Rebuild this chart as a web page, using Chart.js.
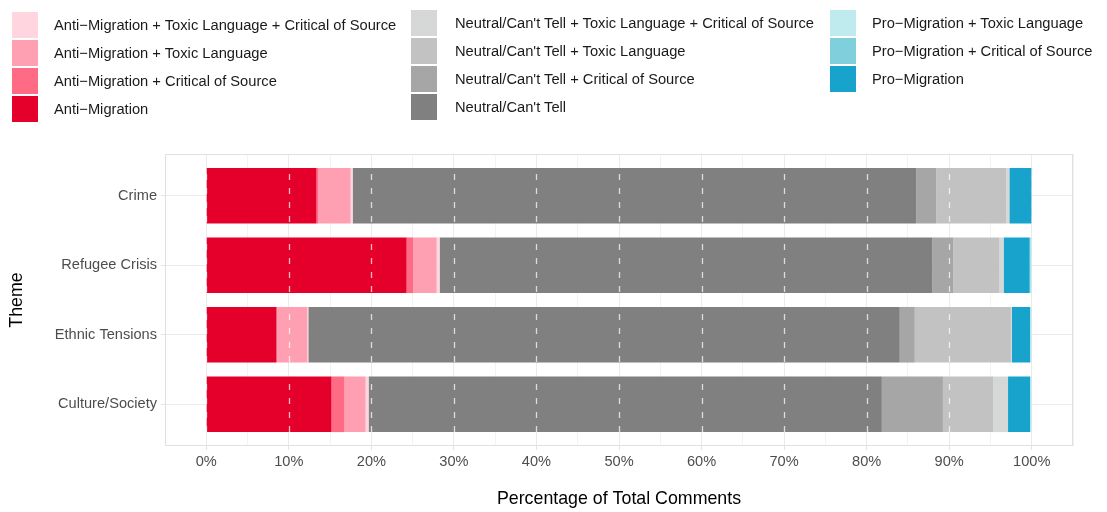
<!DOCTYPE html>
<html>
<head>
<meta charset="utf-8">
<script src="https://cdn.jsdelivr.net/npm/chart.js@4/dist/chart.umd.min.js"></script>
<style>
  html, body { margin: 0; padding: 0; background: #fff; }
  #wrap { position: relative; width: 1107px; height: 512px; font-family: 'Liberation Sans', Arial, sans-serif; }
  #chart { position: absolute; left: 0; top: 0; }
  .col { position: absolute; }
  .item { display: flex; align-items: center; height: 28px; white-space: nowrap; }
  .sw { width: 26px; height: 26px; flex: none; }
  .lbl { font-size: 14.7px; color: #1a1a1a; }
</style>
</head>
<body>
<div id="wrap">
  <canvas id="chart" width="1107" height="512"></canvas>
  <div id="legend"></div>
</div>
<script>
// categories, top to bottom
const categories = ['Crime', 'Refugee Crisis', 'Ethnic Tensions', 'Culture/Society']

// % of total comments per theme, one array per stance (stack order left to right)
const antiMigration        = [13.35, 24.27,  8.50, 15.17]
const antiCritical         = [ 0.24,  0.81,  0.10,  1.58]
const antiToxic            = [ 3.90,  2.83,  3.64,  2.55]
const antiToxicCritical    = [ 0.24,  0.36,  0.12,  0.36]
const neutral              = [68.30, 59.70, 71.65, 62.18]
const neutralCritical      = [ 2.40,  2.55,  1.82,  7.40]
const neutralToxic         = [ 8.50,  5.58, 11.65,  6.07]
const neutralToxicCritical = [ 0.36,  0.49,  0.12,  1.82]
const proMigration         = [ 2.67,  3.16,  2.20,  2.67]
const proCritical          = [ 0.00,  0.10,  0.00,  0.00]
const proToxic             = [ 0.00,  0.15,  0.20,  0.20]

const xTickValues = [0, 10, 20, 30, 40, 50, 60, 70, 80, 90, 100]

const series = [
  {group: 0, label: 'Anti−Migration', data: antiMigration, color: '#e4002b'},
  {group: 0, label: 'Anti−Migration + Critical of Source', data: antiCritical, color: '#ff6b84'},
  {group: 0, label: 'Anti−Migration + Toxic Language', data: antiToxic, color: '#ff9fb2'},
  {group: 0, label: 'Anti−Migration + Toxic Language + Critical of Source', data: antiToxicCritical, color: '#ffd6e0'},
  {group: 1, label: 'Neutral/Can\'t Tell', data: neutral, color: '#808080'},
  {group: 1, label: 'Neutral/Can\'t Tell + Critical of Source', data: neutralCritical, color: '#a6a6a6'},
  {group: 1, label: 'Neutral/Can\'t Tell + Toxic Language', data: neutralToxic, color: '#c2c2c2'},
  {group: 1, label: 'Neutral/Can\'t Tell + Toxic Language + Critical of Source', data: neutralToxicCritical, color: '#d6d8d8'},
  {group: 2, label: 'Pro−Migration', data: proMigration, color: '#17a3cc'},
  {group: 2, label: 'Pro−Migration + Critical of Source', data: proCritical, color: '#80cfdc'},
  {group: 2, label: 'Pro−Migration + Toxic Language', data: proToxic, color: '#c0ebee'}
]

// legend: one column per stance, reversed within the group
const legendCols = [{left: 12, top: 11, gap: 16}, {left: 411, top: 8.5, gap: 18}, {left: 830, top: 8.5, gap: 16}]
const legendEl = document.getElementById('legend')
legendCols.forEach((c, g) => {
  const col = document.createElement('div')
  col.className = 'col'
  col.style.left = c.left + 'px'
  col.style.top = c.top + 'px'
  series.filter(s => s.group === g).reverse().forEach(s => {
    const it = document.createElement('div')
    it.className = 'item'
    it.innerHTML = `<div class="sw" style="background:${s.color};margin-right:${c.gap}px"></div><span class="lbl">${s.label}</span>`
    col.appendChild(it)
  })
  legendEl.appendChild(col)
})

const panelFrame = {
  id: 'panelFrame',
  afterDatasetsDraw(chart){
    const {ctx, chartArea: a} = chart
    ctx.save()
    ctx.strokeStyle = '#e0e0e0'
    ctx.lineWidth = 1
    ctx.strokeRect(Math.round(a.left) + 0.5, Math.round(a.top) + 0.5, Math.round(a.right - a.left) - 1, Math.round(a.bottom - a.top) - 1)
    ctx.restore()
  }
}

// white dashed reference lines across the bars at every 10%
const dashLines = {
  id: 'dashLines',
  afterDatasetsDraw(chart){
    const {ctx, chartArea: a} = chart
    const xs = chart.scales.x
    const bars = chart.getDatasetMeta(0).data
    ctx.save()
    ctx.strokeStyle = 'rgba(255,255,255,0.72)'
    ctx.lineWidth = 1.3
    ctx.setLineDash([6, 8])
    xTickValues.forEach(v => {
      const x = Math.round(xs.getPixelForValue(v)) + 0.5
      bars.forEach(b => {
        const y0 = b.y - b.height / 2, y1 = b.y + b.height / 2
        ctx.lineDashOffset = (y0 - a.top) + 8
        ctx.beginPath()
        ctx.moveTo(x, y0)
        ctx.lineTo(x, y1)
        ctx.stroke()
      })
    })
    ctx.restore()
  }
}

const font = "'Liberation Sans', Arial, sans-serif"

new Chart(document.getElementById('chart'), {
  type: 'bar',
  data: {
    datasets: series.map(s => ({
      label: s.label,
      data: s.data.map((v, i) => ({x: v, y: i})),
      backgroundColor: s.color,
      borderWidth: 0,
      categoryPercentage: 0.8,
      barPercentage: 1
    }))
  },
  options: {
    indexAxis: 'y',
    responsive: false,
    animation: false,
    layout: {padding: {top: 154, right: 34, left: 0, bottom: 0}},
    plugins: {legend: {display: false}, tooltip: {enabled: false}},
    scales: {
      x: {
        type: 'linear', stacked: true, min: -5, max: 105,
        afterFit: s => { s.height = 66 },
        border: {display: false},
        grid: {
          color: c => (c.tick && c.tick.value % 10 === 0) ? '#ebebeb' : '#f3f3f3',
          tickColor: c => (c.tick && c.tick.value % 10 === 0 && c.tick.value >= 0 && c.tick.value <= 100) ? '#e3e3e3' : 'rgba(0,0,0,0)',
          tickLength: 4
        },
        ticks: {
          stepSize: 5, autoSkip: false, maxRotation: 0, padding: 3,
          color: '#4d4d4d', font: {family: font, size: 14.6},
          callback: v => xTickValues.includes(v) ? v + '%' : ''
        },
        title: {display: true, text: 'Percentage of Total Comments', color: '#000', font: {family: font, size: 17.8}, padding: {top: 0, bottom: 2}}
      },
      y: {
        type: 'linear', stacked: true, min: -0.6, max: 3.6, reverse: true,
        offset: false, bounds: 'data',
        afterBuildTicks: s => { s.ticks = categories.map((c, i) => ({value: i})) },
        afterFit: s => { s.width = 165 },
        border: {display: false},
        grid: {offset: false, color: '#ebebeb', tickColor: '#e3e3e3', tickLength: 4},
        ticks: {
          padding: 4, color: '#4d4d4d', font: {family: font, size: 14.6},
          callback: v => categories[v]
        },
        title: {display: true, text: 'Theme', color: '#000', font: {family: font, size: 17.8}, padding: {top: 6, bottom: 0}}
      }
    }
  },
  plugins: [panelFrame, dashLines]
})
</script>
</body>
</html>
